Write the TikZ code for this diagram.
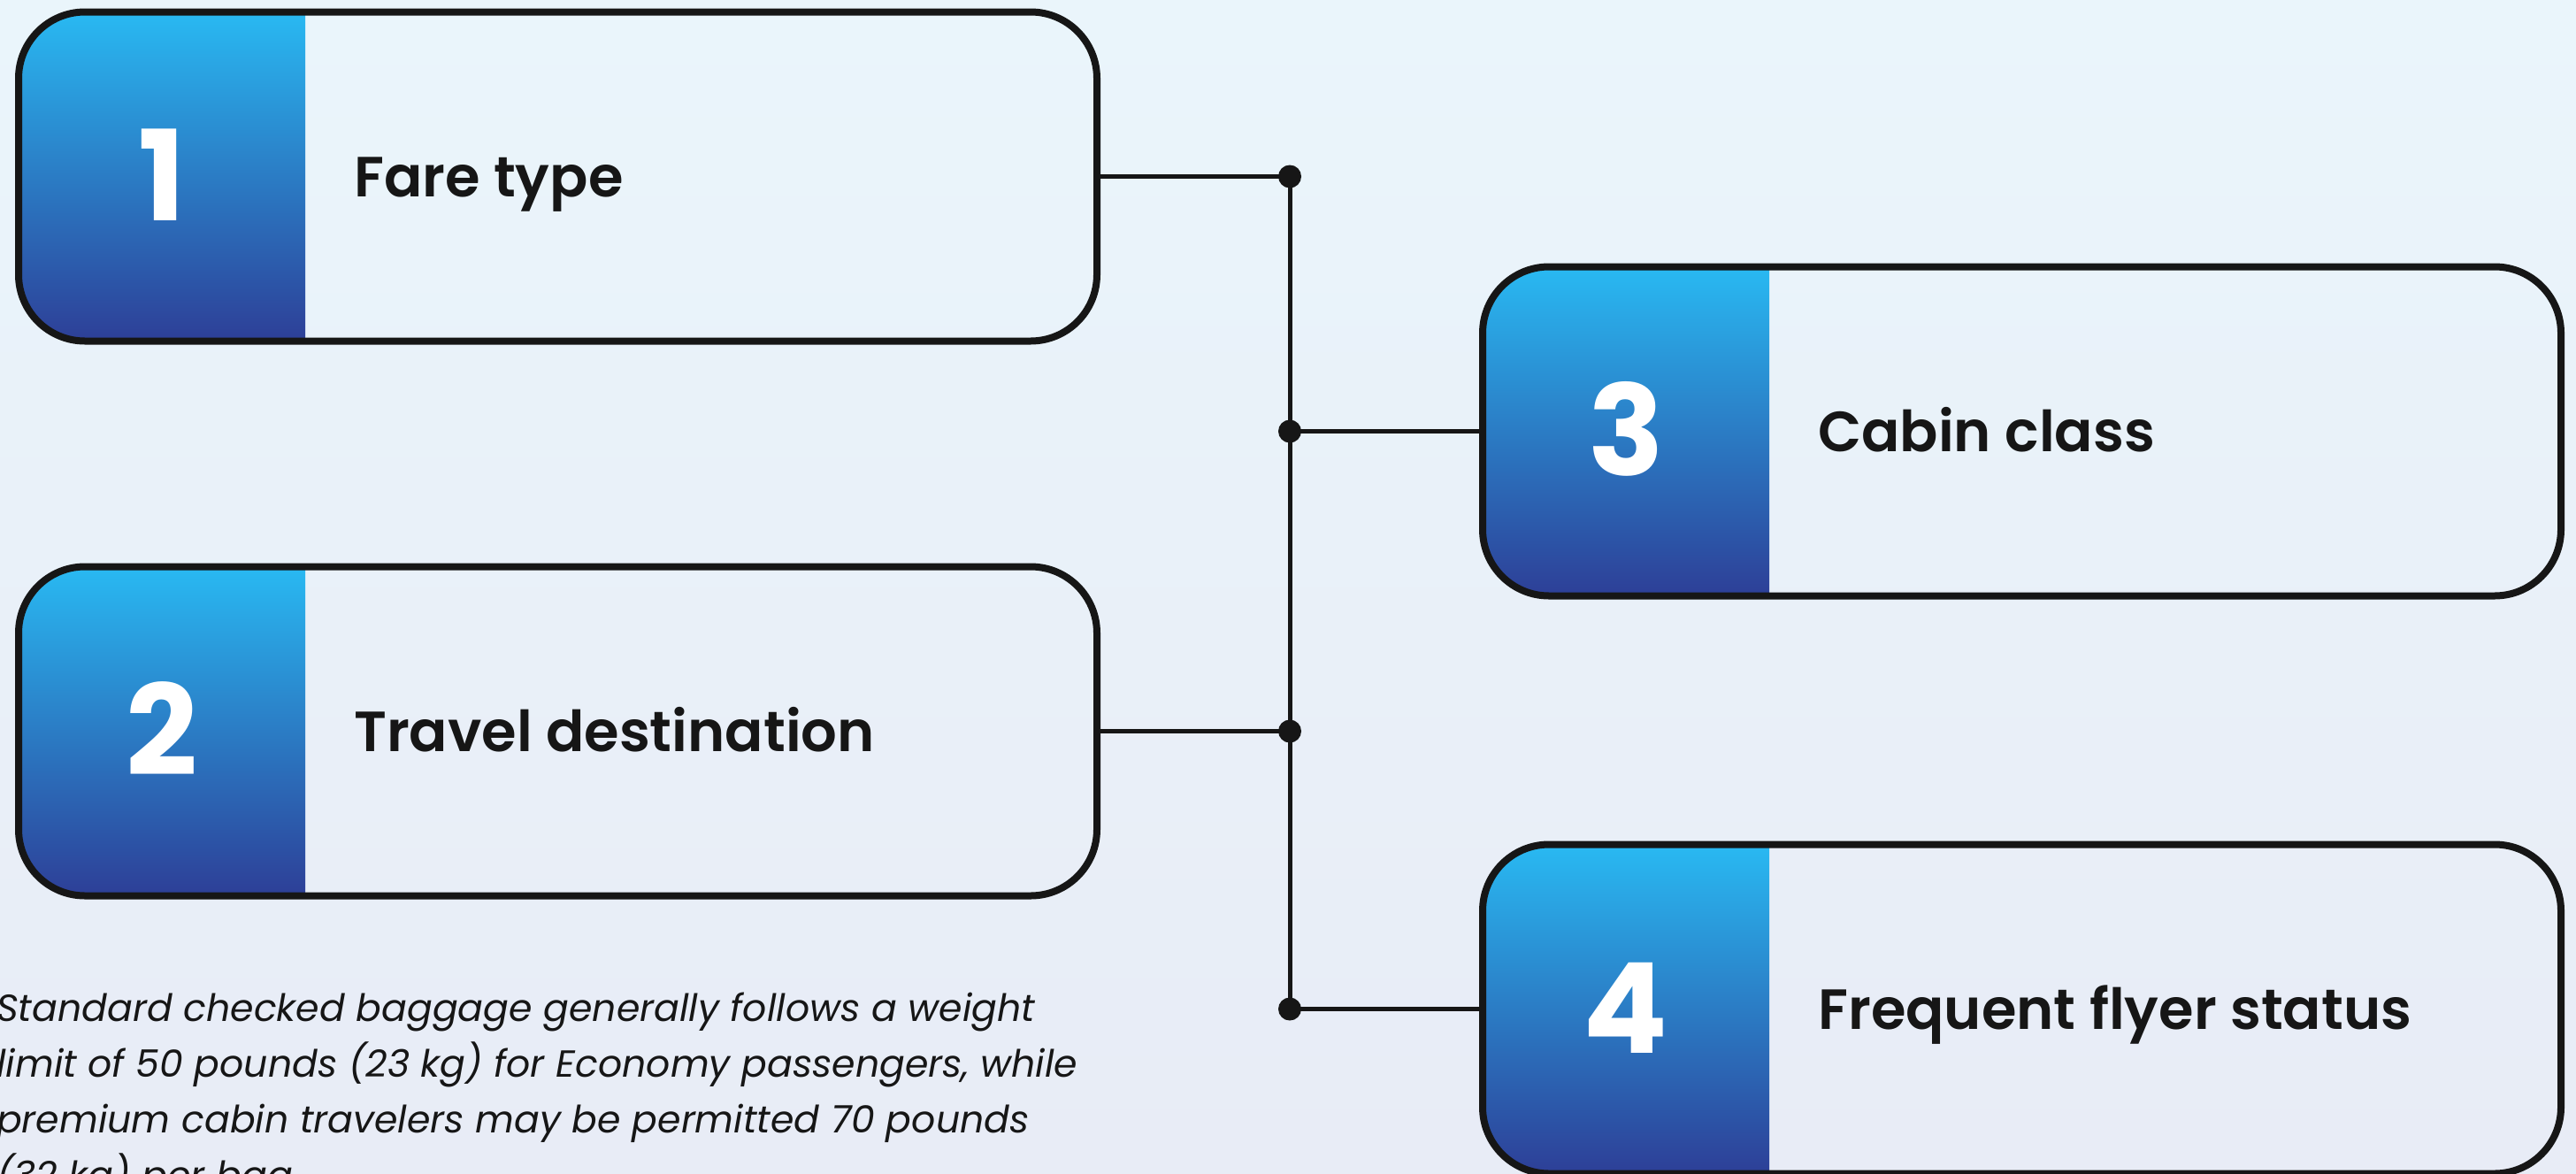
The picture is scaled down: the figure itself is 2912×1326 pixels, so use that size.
\documentclass[tikz,border=0pt]{standalone}
\usepackage{fontspec}
\setmainfont{Poppins}
\newfontfamily\popsemi{Poppins SemiBold}
\definecolor{bgtop}{HTML}{EAF5FB}
\definecolor{bgbot}{HTML}{E8ECF6}
\definecolor{bluetop}{HTML}{29B9F2}
\definecolor{bluebot}{HTML}{2D3F97}
\definecolor{ink}{HTML}{161616}
\tikzset{
  box/.style={draw=ink, line width=8pt, rounded corners=75pt, minimum width=1219pt, minimum height=372pt, inner sep=0pt,
    path picture={\shade[sharp corners, top color=bluetop, bottom color=bluebot]
      (path picture bounding box.north west) rectangle ([xshift=324pt]path picture bounding box.south west);}},
  num/.style={anchor=base, text=white, font=\fontsize{142}{150}\selectfont\bfseries, inner sep=0pt},
  lbl/.style={anchor=base west, text=ink, font=\fontsize{64}{76}\selectfont\popsemi, inner sep=0pt},
  para/.style={anchor=base west, text=ink, font=\fontsize{42.6}{66}\selectfont\itshape, inner sep=0pt},
  dot/.style={circle, fill=ink, minimum size=26pt, inner sep=0pt},
  conn/.style={draw=ink, line width=5pt}
}
\begin{document}
\begin{tikzpicture}[x=1pt,y=-1pt]
\useasboundingbox (0,0) rectangle (2912,1326);
\shade[top color=bgtop, bottom color=bgbot] (0,0) rectangle (2912,1326);
\clip (0,0) rectangle (2912,1326);
% boxes
\node[box] (b1) at (630.5,199.5) {};
\node[box] (b2) at (630.5,826.5) {};
\node[box] (b3) at (2285.5,487.5) {};
\node[box] (b4) at (2285.5,1140.5) {};
% numbers
\node[num] (n1) at (183,249.5) {1};
\node[num] (n2) at (183,876.5) {2};
\node[num] (n3) at (1838,537.5) {3};
\node[num] (n4) at (1838,1190.5) {4};
% labels
\node[lbl] (l1) at (400,222) {Fare type};
\node[lbl] (l2) at (400,849) {Travel destination};
\node[lbl] (l3) at (2055,510) {Cabin class};
\node[lbl] (l4) at (2055,1163) {Frequent flyer status};
% junction dots
\node[dot] (d1) at (1458,199.5) {};
\node[dot] (d2) at (1458,826.5) {};
\node[dot] (d3) at (1458,487.5) {};
\node[dot] (d4) at (1458,1140.5) {};
% connectors
\draw[conn] (b1.east) -- (d1.center);
\draw[conn] (b2.east) -- (d2.center);
\draw[conn] (d3.center) -- (b3.west);
\draw[conn] (d4.center) -- (b4.west);
\draw[conn] (d1.center) -- (d4.center);
% paragraph
\node[para] (p1) at (-4,1154) {Standard checked baggage generally follows a weight};
\node[para] (p2) at (-4,1217) {limit of 50 pounds (23 kg) for Economy passengers, while};
\node[para] (p3) at (-4,1280) {premium cabin travelers may be permitted 70 pounds};
\node[para] (p4) at (-4,1343) {(32 kg) per bag.};
\end{tikzpicture}
\end{document}
